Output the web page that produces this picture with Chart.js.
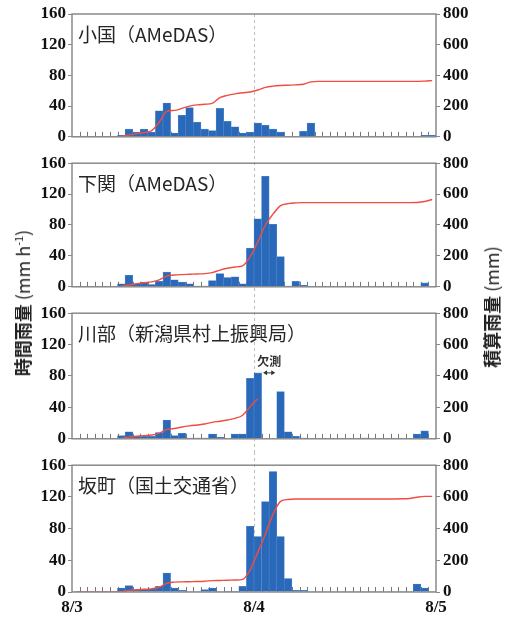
<!DOCTYPE html>
<html>
<head>
<meta charset="utf-8">
<script src="https://cdn.jsdelivr.net/npm/chart.js@4"></script>
<style>
body { margin: 0; background: #fff; width: 505px; height: 624px; position: relative; overflow: hidden; font-family: "Noto Sans CJK JP", sans-serif; }
canvas { position: absolute; left: 0; }
.ytitle { position: absolute; white-space: nowrap; transform: translate(-50%, -50%) rotate(-90deg); font-size: 18px; color: #222; }
.ytitle b { font-weight: 700; }
.ytitle sup { font-size: 11px; }
</style>
</head>
<body>
<canvas id="c0"></canvas>
<canvas id="c1"></canvas>
<canvas id="c2"></canvas>
<canvas id="c3"></canvas>
<div class="ytitle" style="left:22px;top:303px"><b>時間雨量</b> (mm h<sup>-1</sup>)</div>
<div class="ytitle" style="left:491px;top:307px"><b>積算雨量</b> (mm)</div>
<script>
// station names and x-axis day labels
const stations = ['小国（AMeDAS）', '下関（AMeDAS）', '川部（新潟県村上振興局）', '坂町（国土交通省）'];
const dayTicks = [0, 24, 48];
const dayLabels = ['8/3', '8/4', '8/5'];

// hourly rain (mm/h), 48 hours from 8/3 0:00
const rainOguni = [0,0,0,0,0,0, 2,10,6,10,6,34,44,5,28,38,19,10,8,37,20,13,5,6,
  18,15,10,6,0,0,7,18, 0,0,0,0,0,0,0,0,0,0,0,0,0,0, 2,2];
const rainShimo = [0,0,0,0,0,0, 4,15,4,6,3,7,19,9,6,4,1,1,8,17,12,13,4,50,
  88,143,81,39,1,7,2,0, 0,0,0,0,0,0,0,0,0,0,0,0,0,0, 5,0];
const rainKawabe = [0,0,0,0,0,0, 4,9,3,3,3,8,24,4,7,1,1,1,6,2,0,6,6,77,
  84,null,null,60,9,3,1,0, 0,0,0,0,0,0,1,0,0,0,0,0,0,6, 10,0];
const rainSaka = [0,0,0,0,0,0, 5,8,3,3,4,7,24,5,2,0,0,3,5,0,1,1,7,83,
  70,114,152,70,17,2,2,0, 0,0,0,0,0,0,0,0,0,0,0,0,0,10, 5,0];

// cumulative rain (mm) at each hour
const cumOguni = [0,0,0,0,0,0, 3,12,20,28,40,95,165,172,185,200,208,212,218,255,270,280,287,292,
  305,322,330,334,336,338,342,358, 361,361,361,361,361,361,361,361,361,361,361,361,361,361, 363,366];
const cumShimo = [0,0,0,0,0,0, 3,12,20,26,32,45,70,76,79,81,83,85,92,108,120,128,135,195,
  290,400,470,525,538,543,545,545, 545,545,545,545,545,545,545,545,545,545,545,545,545,546, 552,565];
const cumKawabe = [0,0,0,0,0,0, 3,12,16,20,24,35,60,66,75,82,88,94,105,112,120,130,150,205,
  255,null,null,null,null,null,null,null, null,null,null,null,null,null,null,null,null,null,null,null,null,null, null,null];
const cumSaka = [0,0,0,0,0,0, 3,10,14,17,20,30,55,62,64,65,66,68,72,73,74,76,80,140,
  250,365,490,572,584,587,587,587, 587,587,587,587,587,587,587,587,587,587,587,588,590,598, 603,603];

// missing-data note for 川部
const missingNote = {text: '欠測', from: 25, to: 27, level: 84};

const hourLabels = rainOguni.map((v, i) => String(i));
const panels = [
  {name: stations[0], rain: rainOguni, cum: cumOguni},
  {name: stations[1], rain: rainShimo, cum: cumShimo},
  {name: stations[2], rain: rainKawabe, cum: cumKawabe, note: missingNote},
  {name: stations[3], rain: rainSaka, cum: cumSaka}
];

// canvas placement
const boxes = [
  {top: 0, height: 150, plotTop: 14, plotBottom: 141},
  {top: 150, height: 150, plotTop: 159, plotBottom: 290},
  {top: 300, height: 152, plotTop: 309, plotBottom: 440},
  {top: 452, height: 172, plotTop: 464, plotBottom: 592}
];
const xAxisHeight = 24;
const tickFont = {family: '"Liberation Serif", "Times New Roman", serif', size: 17, weight: 'bold'};

const panelDeco = {
  id: 'panelDeco',
  beforeDatasetsDraw(chart, args, opts) {
    const ctx = chart.ctx, a = chart.chartArea, xt = chart.scales.xt;
    ctx.save();
    ctx.strokeStyle = '#777';
    ctx.lineWidth = 1;
    for (let h = 1; h < 48; h++) {
      const x = Math.round(xt.getPixelForValue(h)) + 0.5;
      ctx.beginPath();
      ctx.moveTo(x, a.bottom);
      ctx.lineTo(x, a.bottom - 5);
      ctx.stroke();
    }
    const xd = Math.round(xt.getPixelForValue(dayTicks[1])) + 0.5;
    ctx.setLineDash([3, 3]);
    ctx.strokeStyle = '#bdbdbd';
    ctx.beginPath();
    ctx.moveTo(xd, opts.first ? a.top : 0);
    ctx.lineTo(xd, opts.last ? a.bottom : chart.height);
    ctx.stroke();
    ctx.restore();
  },
  afterDatasetsDraw(chart, args, opts) {
    const ctx = chart.ctx, a = chart.chartArea;
    ctx.save();
    ctx.strokeStyle = '#8a8a8a';
    ctx.lineWidth = 1.5;
    ctx.strokeRect(a.left, a.top, a.right - a.left, a.bottom - a.top);
    ctx.fillStyle = '#262626';
    ctx.font = '19px "Noto Sans CJK JP", sans-serif';
    ctx.textBaseline = 'middle';
    ctx.fillText(opts.title, a.left + 6, a.top + 21);
    const note = opts.note;
    if (note) {
      const xt = chart.scales.xt, y = chart.scales.y;
      const x1 = xt.getPixelForValue(note.from) + 1.5;
      const x2 = xt.getPixelForValue(note.to) - 1.5;
      const yy = y.getPixelForValue(note.level);
      ctx.strokeStyle = '#333';
      ctx.fillStyle = '#333';
      ctx.lineWidth = 1;
      ctx.beginPath();
      ctx.moveTo(x1 + 3, yy); ctx.lineTo(x2 - 3, yy);
      ctx.stroke();
      ctx.beginPath();
      ctx.moveTo(x1, yy); ctx.lineTo(x1 + 4, yy - 2.5); ctx.lineTo(x1 + 4, yy + 2.5); ctx.closePath();
      ctx.moveTo(x2, yy); ctx.lineTo(x2 - 4, yy - 2.5); ctx.lineTo(x2 - 4, yy + 2.5); ctx.closePath();
      ctx.fill();
      ctx.font = 'bold 12px "Noto Sans CJK JP", sans-serif';
      ctx.textAlign = 'center';
      ctx.textBaseline = 'bottom';
      ctx.fillText(note.text, (x1 + x2) / 2, yy - 5);
    }
    ctx.restore();
  }
};

function makeChart(idx) {
  const p = panels[idx];
  const box = boxes[idx];
  const first = idx === 0;
  const last = idx === panels.length - 1;
  const cv = document.getElementById('c' + idx);
  cv.style.top = box.top + 'px';
  cv.width = 505;
  cv.height = box.height;
  return new Chart(cv, {
    type: 'bar',
    data: {
      labels: hourLabels,
      datasets: [
        {
          type: 'line',
          data: p.cum,
          xAxisID: 'x',
          yAxisID: 'y2',
          borderColor: '#f04d40',
          borderWidth: 1.4,
          pointRadius: 0,
          cubicInterpolationMode: 'monotone',
          spanGaps: false,
          order: 0
        },
        {
          type: 'bar',
          data: p.rain,
          xAxisID: 'x',
          yAxisID: 'y',
          backgroundColor: '#2a68b9',
          borderColor: '#5088cc',
          borderWidth: c => (c.raw ? 0.6 : 0),
          categoryPercentage: 1,
          barPercentage: 1,
          order: 1
        }
      ]
    },
    options: {
      responsive: false,
      animation: false,
      devicePixelRatio: 1,
      layout: {
        autoPadding: false,
        padding: {
          top: box.plotTop - box.top,
          bottom: box.top + box.height - box.plotBottom - (last ? xAxisHeight : 0),
          left: 0,
          right: 0
        }
      },
      plugins: {
        legend: {display: false},
        tooltip: {enabled: false},
        panelDeco: {first: first, last: last, title: p.name, note: p.note}
      },
      scales: {
        x: {type: 'category', display: false, offset: true, grid: {display: false}},
        xt: {
          type: 'linear',
          position: 'bottom',
          min: 0,
          max: 48,
          offset: false,
          display: last,
          grid: {display: false, drawTicks: false, offset: false},
          border: {display: false},
          afterBuildTicks: s => { s.ticks = dayTicks.map(v => ({value: v})); },
          afterFit: s => { s.height = last ? xAxisHeight : 0; },
          ticks: {
            callback: v => dayLabels[dayTicks.indexOf(v)],
            font: tickFont,
            color: '#111',
            padding: 5,
            maxRotation: 0,
            autoSkip: false
          }
        },
        y: {
          position: 'left',
          min: 0,
          max: 160,
          ticks: {stepSize: 40, font: tickFont, color: '#111', padding: 2},
          grid: {drawOnChartArea: false, tickLength: 4, color: '#888'},
          border: {display: false},
          afterFit: s => { s.width = 72; }
        },
        y2: {
          position: 'right',
          min: 0,
          max: 800,
          ticks: {stepSize: 200, font: tickFont, color: '#111', padding: 3},
          grid: {drawOnChartArea: false, tickLength: 4, color: '#888'},
          border: {display: false},
          afterFit: s => { s.width = 69; }
        }
      }
    },
    plugins: [panelDeco]
  });
}

panels.forEach((p, i) => makeChart(i));
</script>
</body>
</html>
